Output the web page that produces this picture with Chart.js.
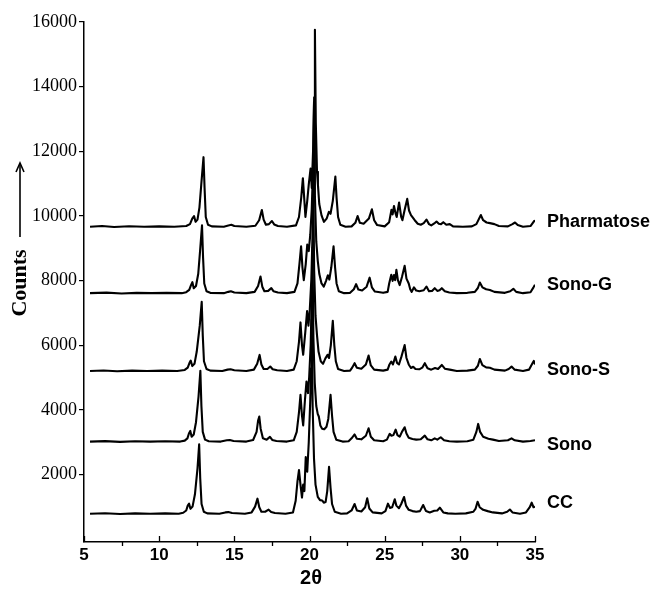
<!DOCTYPE html>
<html>
<head>
<meta charset="utf-8">
<script src="https://cdn.jsdelivr.net/npm/chart.js@4.4.1/dist/chart.umd.min.js"></script>
<style>
  html, body { margin: 0; padding: 0; background: #fff; }
  #wrap { width: 655px; height: 592px; position: relative; }
</style>
</head>
<body>
<div id="wrap"><canvas id="chart"></canvas></div>
<script>
// stacked XRD patterns: [2theta, counts above the pattern's own baseline]
const seriesNames = ["Pharmatose", "Sono-G", "Sono-S", "Sono", "CC"];
const baselines = [9670, 7615, 5210, 3025, 795];
const xTicks = [5, 10, 15, 20, 25, 30, 35];
const yTicks = [2000, 4000, 6000, 8000, 10000, 12000, 14000, 16000];

const pharmatose = [
  [5.4,0],[6.2,20],[7.0,-10],[8.0,15],[9.0,0],[10.0,10],[11.0,0],[11.8,20],[12.05,80],[12.2,250],
  [12.32,330],[12.42,150],[12.55,220],[12.68,600],[12.8,1300],[12.95,2150],[13.02,1200],[13.1,300],[13.25,60],[13.5,10],
  [14.3,0],[14.6,40],[14.8,60],[15.0,20],[15.8,0],[16.4,30],[16.65,200],[16.83,516],[16.95,220],[17.1,60],
  [17.3,80],[17.5,175],[17.65,70],[17.9,20],[18.5,0],[19.1,40],[19.3,300],[19.45,900],[19.56,1500],[19.66,800],
  [19.73,300],[19.85,800],[19.95,1300],[20.07,1800],[20.15,1200],[20.25,2500],[20.31,4000],[20.36,6090],[20.42,3200],[20.5,1700],
  [20.56,1300],[20.65,700],[20.8,350],[20.96,150],[21.15,260],[21.29,460],[21.4,400],[21.55,800],[21.72,1550],[21.8,900],
  [21.9,300],[22.05,60],[22.4,0],[22.8,10],[23.05,120],[23.2,330],[23.35,120],[23.6,90],[23.95,250],[24.15,540],
  [24.3,200],[24.5,50],[25.0,10],[25.3,140],[25.45,520],[25.53,380],[25.62,640],[25.72,420],[25.8,300],[25.96,750],
  [26.1,300],[26.18,200],[26.32,500],[26.5,860],[26.62,500],[26.75,360],[27.0,200],[27.2,90],[27.4,60],[27.6,110],
  [27.78,220],[27.95,80],[28.1,40],[28.3,100],[28.45,160],[28.6,90],[28.75,80],[28.9,140],[29.1,60],[29.33,80],
  [29.55,10],[30.2,0],[30.8,10],[31.1,80],[31.4,360],[31.55,200],[31.78,130],[32.0,110],[32.3,80],[32.6,20],
  [33.2,10],[33.5,80],[33.67,130],[33.85,50],[34.2,0],[34.7,20],[34.95,180],[35.0,150]
];

const sonoG = [
  [5.4,0],[6.5,15],[7.5,-10],[8.5,10],[9.5,0],[10.5,10],[11.5,0],[11.8,30],[12.0,100],[12.12,250],
  [12.21,340],[12.3,150],[12.45,220],[12.6,600],[12.72,1300],[12.85,2100],[12.92,1100],[13.0,300],[13.15,60],[13.4,10],
  [14.3,0],[14.6,40],[14.77,60],[15.0,20],[15.8,0],[16.35,40],[16.58,220],[16.74,516],[16.86,200],[17.0,60],
  [17.25,70],[17.46,155],[17.6,60],[17.9,20],[18.5,0],[19.0,40],[19.2,300],[19.33,900],[19.44,1450],[19.53,800],
  [19.62,400],[19.75,900],[19.85,1500],[19.95,1300],[20.05,1800],[20.15,2600],[20.24,4000],[20.3,5900],[20.36,3000],[20.45,1600],
  [20.55,1000],[20.65,600],[20.8,300],[20.95,200],[21.1,380],[21.22,550],[21.32,420],[21.45,800],[21.6,1450],[21.7,800],
  [21.8,300],[21.95,60],[22.3,0],[22.7,10],[22.95,120],[23.1,280],[23.25,110],[23.5,80],[23.8,200],[24.0,480],
  [24.15,180],[24.35,50],[24.9,10],[25.2,40],[25.3,300],[25.44,570],[25.53,380],[25.62,560],[25.7,400],[25.78,720],
  [25.88,400],[26.0,250],[26.15,500],[26.33,846],[26.45,450],[26.6,300],[26.7,120],[26.8,40],[26.95,180],[27.1,80],
  [27.3,60],[27.6,90],[27.78,206],[27.95,60],[28.15,70],[28.33,155],[28.5,70],[28.65,90],[28.8,155],[29.0,60],
  [29.3,20],[29.8,0],[30.5,10],[31.0,40],[31.2,160],[31.33,330],[31.5,180],[31.75,120],[32.0,100],[32.3,40],
  [33.0,10],[33.35,60],[33.56,134],[33.75,40],[34.2,0],[34.7,30],[34.9,180],[35.0,260]
];

const sonoS = [
  [5.4,0],[6.3,15],[7.2,-10],[8.2,10],[9.2,0],[10.2,10],[11.2,0],[11.7,30],[11.9,100],[12.02,250],
  [12.1,320],[12.2,150],[12.35,220],[12.5,600],[12.7,1400],[12.83,2140],[12.9,1100],[12.98,300],[13.15,60],[13.4,10],
  [14.2,0],[14.55,40],[14.75,50],[15.0,20],[15.8,0],[16.3,40],[16.52,220],[16.68,495],[16.8,200],[16.95,60],
  [17.2,60],[17.39,135],[17.55,50],[17.85,20],[18.5,0],[18.95,40],[19.15,300],[19.3,900],[19.4,1500],[19.5,800],
  [19.58,500],[19.72,1200],[19.84,1850],[19.93,1400],[20.02,1900],[20.12,2800],[20.2,4200],[20.25,5900],[20.31,3100],[20.4,1700],
  [20.5,1100],[20.6,600],[20.75,300],[20.9,220],[21.05,380],[21.2,500],[21.3,400],[21.42,800],[21.55,1550],[21.65,800],
  [21.75,300],[21.9,60],[22.3,0],[22.7,10],[22.85,110],[23.0,240],[23.15,100],[23.45,70],[23.75,200],[23.93,475],
  [24.08,170],[24.3,40],[24.9,10],[25.2,40],[25.32,200],[25.44,290],[25.55,200],[25.71,444],[25.82,250],[25.95,200],
  [26.12,450],[26.33,800],[26.45,400],[26.6,200],[26.75,90],[26.9,130],[27.05,60],[27.3,50],[27.5,100],[27.67,240],
  [27.85,80],[28.1,40],[28.35,90],[28.55,60],[28.8,185],[29.0,70],[29.33,40],[29.8,0],[30.5,10],[31.0,40],
  [31.2,160],[31.33,370],[31.5,180],[31.75,110],[32.0,100],[32.3,40],[33.0,10],[33.25,60],[33.44,134],[33.65,40],
  [34.2,0],[34.6,40],[34.85,250],[34.92,310],[35.0,200]
];

const sono = [
  [5.4,0],[6.4,15],[7.4,-10],[8.4,10],[9.4,0],[10.4,10],[11.4,0],[11.7,30],[11.88,100],[11.98,250],
  [12.07,330],[12.16,150],[12.3,220],[12.45,600],[12.62,1400],[12.74,2190],[12.81,1100],[12.9,300],[13.05,60],[13.3,10],
  [14.1,0],[14.5,40],[14.7,50],[14.95,20],[15.8,0],[16.25,50],[16.48,300],[16.58,650],[16.66,774],[16.75,400],
  [16.9,100],[17.15,60],[17.37,145],[17.52,50],[17.8,20],[18.5,0],[18.95,40],[19.15,300],[19.3,900],[19.4,1445],
  [19.5,800],[19.58,500],[19.7,1300],[19.8,1860],[19.9,1500],[19.98,2000],[20.08,3000],[20.15,4500],[20.2,6000],[20.26,3200],
  [20.35,1800],[20.45,1100],[20.55,850],[20.62,775],[20.72,500],[20.84,400],[20.98,380],[21.13,460],[21.25,700],[21.4,1445],
  [21.5,800],[21.6,300],[21.78,60],[22.2,0],[22.6,10],[22.8,100],[23.0,220],[23.15,90],[23.45,70],[23.75,180],
  [23.93,413],[24.08,150],[24.3,40],[24.9,10],[25.15,60],[25.33,240],[25.45,180],[25.58,200],[25.73,370],[25.85,200],
  [26.0,150],[26.15,300],[26.33,444],[26.45,250],[26.6,120],[26.85,80],[27.1,60],[27.4,70],[27.67,185],[27.85,70],
  [28.1,40],[28.33,100],[28.5,60],[28.73,134],[28.95,40],[29.3,10],[29.8,0],[30.5,10],[30.9,60],[31.1,300],
  [31.22,547],[31.35,300],[31.55,150],[31.9,90],[32.2,60],[32.6,20],[33.2,40],[33.44,100],[33.65,40],[34.2,0],
  [34.7,20],[35.0,40]
];

const cc = [
  [5.4,0],[6.4,15],[7.4,-10],[8.4,10],[9.4,0],[10.4,10],[11.3,0],[11.6,30],[11.8,100],[11.9,250],
  [11.99,310],[12.08,150],[12.22,220],[12.38,600],[12.55,1400],[12.66,2146],[12.73,1100],[12.82,300],[12.97,60],[13.2,10],
  [14.0,0],[14.4,40],[14.6,50],[14.85,20],[15.7,0],[16.15,40],[16.38,220],[16.54,465],[16.66,200],[16.8,60],
  [17.05,60],[17.28,124],[17.45,50],[17.7,20],[18.4,0],[18.9,40],[19.08,400],[19.2,1000],[19.3,1350],[19.4,900],
  [19.5,500],[19.58,900],[19.66,700],[19.75,1750],[19.85,1300],[19.95,2200],[20.05,3500],[20.1,4500],[20.15,6000],[20.21,3300],
  [20.3,1700],[20.4,900],[20.55,520],[20.7,420],[20.84,410],[20.95,340],[21.07,360],[21.18,700],[21.3,1450],[21.4,800],
  [21.5,300],[21.68,60],[22.1,0],[22.5,10],[22.8,100],[23.0,300],[23.15,100],[23.45,70],[23.7,200],[23.84,475],
  [23.98,160],[24.2,40],[24.8,10],[25.05,80],[25.22,310],[25.35,180],[25.5,200],[25.67,444],[25.78,250],[25.95,170],
  [26.1,300],[26.29,516],[26.42,250],[26.6,120],[26.85,80],[27.1,60],[27.35,80],[27.56,270],[27.75,80],[28.0,40],
  [28.3,90],[28.5,100],[28.67,185],[28.9,40],[29.2,10],[29.7,0],[30.4,10],[30.9,60],[31.05,160],[31.18,370],
  [31.32,200],[31.55,120],[31.85,80],[32.2,40],[32.8,10],[33.15,60],[33.33,130],[33.5,40],[34.0,0],[34.4,40],
  [34.65,200],[34.78,340],[34.9,200],[35.0,220]
];

const patterns = [pharmatose, sonoG, sonoS, sono, cc];
// vertical nudge (px) of each name relative to its baseline
const labelNudge = [-5, -8, -1, 3, -11];

const datasets = patterns.map((pts, i) => ({
  label: seriesNames[i],
  data: pts.map(([t, c]) => ({ x: t, y: c + baselines[i] })),
  borderColor: "#000",
  borderWidth: 2.1,
  borderJoinStyle: "round",
  pointRadius: 0,
  tension: 0,
  fill: false
}));

const decorPlugin = {
  id: "decor",
  afterDraw(chart) {
    const ctx = chart.ctx;
    const xs = chart.scales.x;
    const ys = chart.scales.y;
    const bottom = chart.chartArea.bottom;
    ctx.save();

    // x tick marks: majors point up, minors point down
    ctx.strokeStyle = "#000";
    ctx.lineWidth = 1.3;
    for (let v = 5; v <= 35; v += 2.5) {
      const px = Math.round(xs.getPixelForValue(v)) + 0.5;
      const major = v % 5 === 0;
      ctx.beginPath();
      ctx.moveTo(px, bottom);
      ctx.lineTo(px, major ? bottom - 6 : bottom + 4);
      ctx.stroke();
    }

    // series names
    ctx.fillStyle = "#000";
    ctx.font = "bold 18px 'Liberation Sans', Arial, sans-serif";
    ctx.textAlign = "left";
    ctx.textBaseline = "middle";
    seriesNames.forEach((name, i) => {
      ctx.fillText(name, xs.right + 12, ys.getPixelForValue(baselines[i]) + labelNudge[i]);
    });

    // x title
    ctx.font = "bold 20px 'Liberation Sans', Arial, sans-serif";
    ctx.textAlign = "center";
    ctx.fillText("2θ", 311, 578);

    // y title with long arrow
    ctx.translate(20, 283);
    ctx.rotate(-Math.PI / 2);
    ctx.font = "bold 22px 'Liberation Serif', 'Times New Roman', serif";
    ctx.fillText("Counts", 0, 0);
    ctx.lineWidth = 1.6;
    ctx.beginPath();
    ctx.moveTo(46, 0);
    ctx.lineTo(120, 0);
    ctx.stroke();
    ctx.beginPath();
    ctx.moveTo(111, -4);
    ctx.lineTo(120, 0);
    ctx.lineTo(111, 4);
    ctx.stroke();

    ctx.restore();
  }
};

new Chart(document.getElementById("chart"), {
  type: "line",
  data: { datasets },
  options: {
    responsive: true,
    maintainAspectRatio: false,
    animation: false,
    layout: { padding: { top: 22, right: 120, left: 0, bottom: 0 } },
    plugins: { legend: { display: false }, tooltip: { enabled: false } },
    scales: {
      x: {
        type: "linear",
        min: 5,
        max: 35,
        afterFit: (s) => { s.height = 50; },
        afterBuildTicks: (s) => { s.ticks = xTicks.map((v) => ({ value: v })); },
        grid: { display: false, drawTicks: false },
        border: { display: true, color: "#000", width: 1.5 },
        ticks: {
          color: "#000",
          padding: 3,
          maxRotation: 0,
          autoSkip: false,
          callback: (v) => String(v),
          font: { family: "'Liberation Sans', Arial, sans-serif", size: 17, weight: "bold" }
        }
      },
      y: {
        min: -80,
        max: 16000,
        afterFit: (s) => { s.width = 84; },
        afterBuildTicks: (s) => { s.ticks = yTicks.map((v) => ({ value: v })); },
        grid: { drawOnChartArea: false, drawTicks: true, tickLength: 5, color: "#000", lineWidth: 1.2 },
        border: { display: true, color: "#000", width: 1.5 },
        ticks: {
          color: "#000",
          padding: 2,
          callback: (v) => String(v),
          font: { family: "'Liberation Serif', 'Times New Roman', serif", size: 18 }
        }
      }
    }
  },
  plugins: [decorPlugin]
});
</script>
</body>
</html>
